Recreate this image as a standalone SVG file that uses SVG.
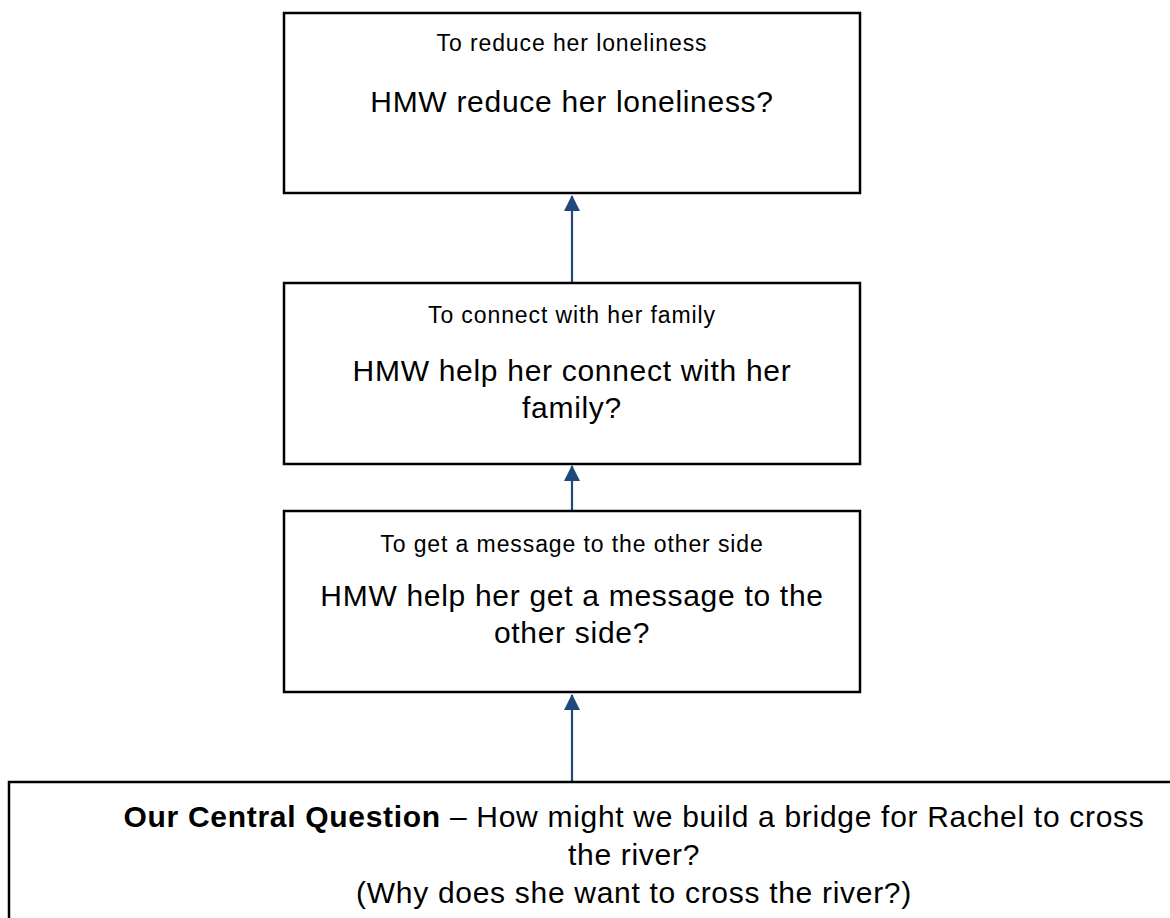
<svg xmlns="http://www.w3.org/2000/svg" width="1170" height="918" viewBox="0 0 1170 918">
<style>
.box{fill:#fff;stroke:#000;stroke-width:2.5}
.sm{font-family:"Liberation Sans",Arial,sans-serif;font-size:23px;letter-spacing:0.9px;text-anchor:middle;fill:#000}
.lg{font-family:"Liberation Sans",Arial,sans-serif;font-size:30px;letter-spacing:0.7px;text-anchor:middle;fill:#000}
.conn{stroke:#1F497D;stroke-width:2.2;fill:none}
</style>
<defs>
<marker id="ah" markerUnits="userSpaceOnUse" markerWidth="16" markerHeight="16" refX="15" refY="8" orient="auto">
<path d="M0,0 L16,8 L0,16 Z" fill="#1F497D"/>
</marker>
</defs>
<rect width="1170" height="918" fill="#fff"/>
<g id="connectors">
<line class="conn" x1="572" y1="282" x2="572" y2="196" marker-end="url(#ah)"/>
<line class="conn" x1="572" y1="510" x2="572" y2="466" marker-end="url(#ah)"/>
<line class="conn" x1="572" y1="781" x2="572" y2="695" marker-end="url(#ah)"/>
</g>
<g id="node1">
<rect class="box" x="284" y="13" width="576" height="180"/>
<text class="sm" x="572" y="51">To reduce her loneliness</text>
<text class="lg" x="572" y="112">HMW reduce her loneliness?</text>
</g>
<g id="node2">
<rect class="box" x="284" y="283" width="576" height="181"/>
<text class="sm" x="572" y="323">To connect with her family</text>
<text class="lg" x="572" y="381">HMW help her connect with her</text>
<text class="lg" x="572" y="418">family?</text>
</g>
<g id="node3">
<rect class="box" x="284" y="511" width="576" height="181"/>
<text class="sm" x="572" y="552">To get a message to the other side</text>
<text class="lg" x="572" y="606">HMW help her get a message to the</text>
<text class="lg" x="572" y="643">other side?</text>
</g>
<g id="node4">
<rect class="box" x="9" y="782" width="1300" height="200"/>
<text class="lg" x="634" y="827"><tspan font-weight="bold">Our Central Question</tspan> – How might we build a bridge for Rachel to cross</text>
<text class="lg" x="634" y="865">the river?</text>
<text class="lg" x="634" y="903">(Why does she want to cross the river?)</text>
</g>
</svg>
